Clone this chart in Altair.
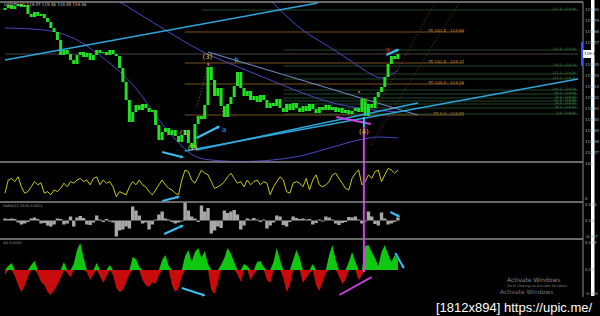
import altair as alt
import pandas as pd

# ---------------- data ----------------
close = [119.92, 119.95, 119.91, 119.94, 119.96, 119.93, 119.95, 119.86, 119.83, 119.88,
         119.84, 119.86, 119.82, 119.78, 119.72, 119.68, 119.60, 119.45, 119.50, 119.46,
         119.40, 119.36, 119.45, 119.48, 119.43, 119.47, 119.40, 119.45, 119.50, 119.47,
         119.48, 119.45, 119.50, 119.46, 119.44, 119.32, 119.18, 119.00, 118.78, 118.88,
         118.95, 118.90, 118.96, 118.92, 118.88, 118.90, 118.75, 118.60, 118.68, 118.72,
         118.65, 118.70, 118.64, 118.58, 118.65, 118.70, 118.57, 118.52, 118.76, 118.84,
         118.81, 118.95, 119.33, 119.20, 119.04, 119.12, 118.94, 118.83, 118.96, 119.03,
         119.14, 119.28, 119.12, 119.04, 119.09, 119.00, 119.04, 118.98, 119.05, 119.00,
         118.92, 118.97, 118.94, 119.01, 118.92, 118.88, 118.96, 118.90, 118.97, 118.92,
         118.88, 118.94, 118.89, 118.96, 118.91, 118.87, 118.93, 118.90, 118.95, 118.90,
         118.93, 118.88, 118.92, 118.87, 118.90, 118.86, 118.89, 118.92, 118.88, 119.01,
         118.84, 118.96, 118.92, 119.03, 119.08, 119.13, 119.23, 119.36, 119.44, 119.41,
         119.46]
first_open = 119.90

osc = [22, 55, 59, 51, 63, 38, 22, 26, 38, 51, 43, 48, 22, 26, 18, 30, 26, 34, 47, 38,
       51, 47, 55, 59, 51, 55, 43, 59, 63, 43, 55, 47, 51, 38, 13, 26, 22, 18, 38, 51,
       43, 55, 43, 38, 26, 18, 30, 43, 55, 43, 34, 30, 22, 18, 55, 80, 76, 55, 47, 63,
       80, 72, 68, 51, 34, 38, 43, 51, 63, 72, 59, 47, 51, 38, 55, 43, 51, 55, 43, 51,
       47, 18, 38, 51, 63, 55, 26, 22, 47, 51, 47, 38, 59, 30, 55, 68, 43, 38, 43, 51,
       68, 72, 59, 47, 34, 30, 59, 72, 80, 43, 51, 68, 59, 76, 80, 51, 68, 84, 80, 72,
       80]

osma = [0.004, 0.003, 0.004, 0.003, -0.004, -0.008, -0.006, -0.003, 0.004, 0.006,
        0.003, -0.006, -0.005, -0.010, -0.012, -0.008, 0.004, 0.003, -0.008, -0.006,
        0.008, -0.012, 0.006, 0.009, 0.005, -0.008, -0.009, -0.004, 0.010, 0.002,
        -0.003, 0.003, -0.002, -0.004, -0.032, -0.020, -0.018, -0.012, -0.016, 0.028,
        0.020, 0.010, -0.006, -0.004, -0.018, -0.008, 0.002, 0.012, 0.018, 0.004,
        0.002, -0.003, -0.006, -0.004, -0.002, 0.036, 0.020, 0.008, 0.004, -0.003,
        0.030, 0.018, 0.025, -0.026, -0.020, -0.012, -0.015, 0.020, 0.015, 0.018,
        0.021, 0.012, -0.018, -0.010, 0.004, 0.002, 0.005, 0.002, -0.003, 0.002,
        -0.016, -0.010, -0.004, 0.010, 0.008, -0.009, -0.012, -0.003, 0.008, 0.005,
        0.003, 0.004, 0.002, 0.003, -0.008, -0.005, 0.002, -0.002, 0.008, 0.006,
        0.002, -0.006, -0.009, -0.005, -0.003, 0.007, 0.006, 0.008, 0.002, -0.006,
        -0.002, 0.018, 0.008, -0.007, -0.010, 0.016, 0.004, -0.008, -0.006, -0.003,
        0.006]

ao = [-0.005, 0.004, 0.007, -0.006, -0.015, -0.022, -0.016, -0.006, 0.005, 0.009,
      -0.004, -0.012, -0.015, -0.022, -0.025, -0.020, -0.015, -0.008, 0.008, -0.003,
      -0.007, 0.006, 0.020, 0.027, 0.012, -0.002, -0.010, -0.004, 0.007, -0.006,
      -0.013, -0.006, 0.005, -0.005, -0.018, -0.022, -0.020, -0.012, -0.004, 0.013,
      0.011, 0.003, -0.010, -0.015, -0.017, -0.012, -0.014, -0.005, 0.010, 0.015,
      0.004, -0.015, -0.022, -0.018, -0.006, 0.014, 0.020, 0.008, 0.018, 0.022,
      0.012, 0.019, 0.006, -0.020, -0.024, -0.012, 0.005, 0.012, 0.022, 0.016,
      0.008, -0.004, -0.012, 0.006, 0.004, -0.010, -0.004, 0.008, 0.009, 0.003,
      -0.010, -0.013, 0.008, 0.022, 0.010, -0.008, -0.022, -0.015, 0.010, 0.020,
      0.012, -0.013, -0.008, -0.003, 0.006, -0.015, -0.021, -0.012, -0.003, 0.015,
      0.025, 0.010, -0.006, -0.014, -0.010, 0.008, 0.018, 0.008, -0.010, -0.005,
      0.024, 0.025, 0.018, 0.012, 0.004, 0.018, 0.025, 0.016, 0.008, 0.015,
      0.010]

# envelope curves (bar index, price)
band_upper_left = [(35.1, 119.98), (45.0, 119.78), (54.0, 119.60), (60.0, 119.49), (72.0, 119.32),
                   (81.0, 119.20), (90.1, 119.08), (99.1, 118.98), (108.1, 118.92), (120.1, 118.88)]
band_upper_right = [(81.6, 119.98), (90.1, 119.72), (99.1, 119.53), (106.6, 119.37), (111.7, 119.26),
                    (114.7, 119.22), (117.7, 119.25), (120.1, 119.30)]
band_lower = [(0, 119.72), (12.0, 119.70), (20.1, 119.63), (30.0, 119.42), (39.9, 119.12),
              (47.1, 118.80), (53.1, 118.57), (57.9, 118.44), (63.0, 118.40), (72.0, 118.385),
              (81.6, 118.40), (90.1, 118.44), (99.1, 118.52), (108.1, 118.60), (114.1, 118.63),
              (120.1, 118.62)]

# drawn lines (x, y, x2, y2) in bar index / panel units
cyan_lines = [(0.0, 119.40, 95.5, 119.97), (54.9, 118.49, 175.0, 119.21), (58.5, 118.50, 126.1, 118.97)]
steel_lines = [(62.0, 119.48, 126.0, 118.85)]
dotted_red = [(108.1, 118.60, 131.2, 119.97), (111.7, 118.55, 138.7, 119.97)]
dotted_wave = [(62.1, 119.35, 66.9, 118.83), (62.1, 119.35, 58.5, 118.92)]
magenta_main = [(109.6, 118.73, 109.6, 118.38), (101.2, 118.83, 111.7, 118.76)]
cyan_tick = [(109.6, 118.83, 109.6, 118.73)]
magenta_osc = [(109.6, 0, 109.6, 100)]
magenta_osma = [(109.6, -0.037, 109.6, 0.037)]
magenta_ao = [(109.6, 0.031, 109.6, -0.002), (102.1, -0.025, 112.0, -0.007)]

# arrows (x, y, x2, y2, head angle)
arrows_main = [(48.0, 118.48, 54.0, 118.43, 104), (58.5, 118.62, 65.1, 118.73, 63),
               (116.5, 119.45, 119.8, 119.50, 66)]
arrows_osc = [(48.0, 2.5, 52.8, 12.5, 76)]
arrows_osma = [(48.6, -0.027, 54.0, -0.011, 66), (117.7, 0.017, 120.1, 0.009, 117)]
arrows_ao = [(54.0, -0.018, 60.6, -0.025, 108), (119.2, 0.017, 121.6, 0.003, 150)]

# fibonacci expansion / retracement levels
fe_prices = [119.68, 119.37, 119.16, 118.85]
fe_labels = ["FE 261.8 - 119.68", "FE 161.8 - 119.37", "FE 100.0 - 119.16", "FE 0.0 - 118.85"]
fe_start, fe_end = 54.9, 140.2
fr_prices = [119.90, 119.50, 119.34, 119.26, 119.21, 119.10, 119.06, 119.02, 118.99, 118.96, 118.92, 118.86]
fr_labels = ["261.8 - 119.90", "161.8 - 119.50", "138.2 - 119.34", "127.2 - 119.26", "123.6 - 119.21",
             "100.0 - 119.10", "88.6 - 119.06", "78.6 - 119.02", "61.8 - 118.99", "50.0 - 118.96",
             "38.2 - 118.92", "0.0 - 118.86"]
fr_start = [60.0] + [85.0] * 11
fr_end = 175.0
bid_price = 119.46

wave_labels = [("(1)", 54.9, 118.67), ("(2)", 57.3, 118.52), ("(3)", 61.8, 119.43), ("(4)", 109.6, 118.68)]
abc_labels = [("a", 66.9, 118.70), ("b", 70.8, 119.40)]
red_labels = [("3", 116.8, 119.49, 7), ("1", 110.2, 119.00, 5), ("2", 117.4, 118.92, 5)]
pink_dots = [(62.1, 119.36), (108.1, 119.08)]

main_ticks = [119.90, 119.79, 119.68, 119.57, 119.35, 119.24, 119.13, 119.02, 118.91, 118.80, 118.69, 118.58, 118.47]
osc_tick_pos = [96, 8]
osc_tick_text = ["100", "0"]
osma_tick_pos = [0.031, 0.0, -0.033]
osma_tick_text = ["0.036", "0.00", "-0.037"]
ao_tick_pos = [0.027, 0.0, -0.024]
ao_tick_text = ["0.029", "0.00", "-0.026"]

# ---------------- scales ----------------
XS = alt.Scale(domain=[0, 175], range=[0, 583], nice=False, zero=False)


def ysc(dom, rng):
    return alt.Scale(domain=dom, range=rng, nice=False, zero=False)


YM = ysc([118.38, 119.98], [162, 2])
YO = ysc([0, 100], [202, 162])
YH = ysc([-0.037, 0.037], [239, 202])
YA = ysc([-0.027, 0.031], [297, 239])


def X(f):
    return alt.X(f, type="quantitative", scale=XS, axis=None)


def Y(f, s):
    return alt.Y(f, type="quantitative", scale=s, axis=None)


layers = []
one = pd.DataFrame({"k": [0]})


def segs(rows, s, color, width=1.0, dash=None, opacity=1.0):
    df = pd.DataFrame([r[:4] for r in rows], columns=["x", "y", "x2", "y2"])
    kw = dict(color=color, strokeWidth=width, opacity=opacity)
    if dash:
        kw["strokeDash"] = dash
    return alt.Chart(df).mark_rule(**kw).encode(
        x=X("x"), x2="x2:Q", y=Y("y", s), y2="y2:Q")


def heads(rows, s, color):
    df = pd.DataFrame([(r[2], r[3], r[4]) for r in rows], columns=["x", "y", "a"])
    return alt.Chart(df).mark_point(shape="triangle", filled=True, size=14, color=color, opacity=1).encode(
        x=X("x"), y=Y("y", s), angle=alt.Angle("a:Q", scale=None))


def curve(pts, s, color, width=1.0):
    df = pd.DataFrame(pts, columns=["x", "y"])
    df["o"] = range(len(df))
    return alt.Chart(df).mark_line(color=color, strokeWidth=width, interpolate="monotone").encode(
        x=X("x"), y=Y("y", s), order="o:Q")


# ---- main panel ----
fe_df = pd.DataFrame({"y": fe_prices, "t": fe_labels, "x": fe_start, "x2": fe_end})
layers.append(alt.Chart(fe_df).mark_rule(color="#9a6a24", strokeWidth=0.8).encode(
    x=X("x"), x2="x2:Q", y=Y("y", YM)))
layers.append(alt.Chart(fe_df).mark_text(color="#c08a30", fontSize=4, align="right", baseline="bottom",
                                         dy=0.5, font="DejaVu Sans").encode(x=X("x2"), y=Y("y", YM), text="t:N"))
fr_df = pd.DataFrame({"y": fr_prices, "t": fr_labels, "x": fr_start, "x2": fr_end})
layers.append(alt.Chart(fr_df).mark_rule(color="#2c5a34", strokeWidth=0.8).encode(
    x=X("x"), x2="x2:Q", y=Y("y", YM)))
layers.append(alt.Chart(fr_df).mark_text(color="#3c9a4c", fontSize=3.2, align="right", baseline="bottom",
                                         dy=0.6, dx=-2, font="DejaVu Sans").encode(x=X("x2"), y=Y("y", YM), text="t:N"))
layers.append(alt.Chart(pd.DataFrame({"y": [bid_price], "x": [0], "x2": [175]})).mark_rule(
    color="#555555", strokeWidth=0.8).encode(x=X("x"), x2="x2:Q", y=Y("y", YM)))

layers.append(curve(band_upper_left, YM, "#4848c8"))
layers.append(curve(band_upper_right, YM, "#4848c8"))
layers.append(curve(band_lower, YM, "#4848c8"))
layers.append(segs(steel_lines, YM, "#6f8fcf", 1.0))
layers.append(segs(dotted_red, YM, "#8a3030", 1.0, dash=[1, 2]))
layers.append(segs(dotted_wave, YM, "#a05070", 1.0, dash=[1, 2]))

cdf = pd.DataFrame({"i": list(range(len(close))), "c": close})
cdf["o"] = [first_open] + close[:-1]
layers.append(alt.Chart(cdf).mark_bar(size=3.0, color="#22e022").encode(
    x=X("i"), y=Y("o", YM), y2="c:Q"))

layers.append(segs(cyan_lines, YM, "#2ea8dc", 1.5))
layers.append(segs(arrows_main, YM, "#38c0f0", 2.0))
layers.append(heads(arrows_main, YM, "#38c0f0"))
layers.append(segs(magenta_main, YM, "#d040e8", 2.0))
layers.append(segs(cyan_tick, YM, "#38c0f0", 2.0))

wdf = pd.DataFrame(wave_labels, columns=["t", "x", "y"])
layers.append(alt.Chart(wdf).mark_text(color="#e8c040", fontSize=7, font="DejaVu Sans").encode(
    x=X("x"), y=Y("y", YM), text="t:N"))
adf = pd.DataFrame(abc_labels, columns=["t", "x", "y"])
layers.append(alt.Chart(adf).mark_text(color="#3aa8e8", fontSize=7, font="DejaVu Sans").encode(
    x=X("x"), y=Y("y", YM), text="t:N"))
rdf = pd.DataFrame(red_labels, columns=["t", "x", "y", "s"])
layers.append(alt.Chart(rdf).mark_text(color="#e02828", font="DejaVu Sans").encode(
    x=X("x"), y=Y("y", YM), text="t:N", size=alt.Size("s:Q", scale=None)))
pdf_ = pd.DataFrame(pink_dots, columns=["x", "y"])
layers.append(alt.Chart(pdf_).mark_point(filled=True, size=6, color="#e060a0").encode(x=X("x"), y=Y("y", YM)))

# ---- oscillator panel ----
odf = pd.DataFrame({"i": list(range(len(osc))), "v": osc})
layers.append(alt.Chart(odf).mark_line(color="#c8c820", strokeWidth=1).encode(x=X("i"), y=Y("v", YO)))
layers.append(segs(arrows_osc, YO, "#38c0f0", 2.0))
layers.append(heads(arrows_osc, YO, "#38c0f0"))
layers.append(segs(magenta_osc, YO, "#d040e8", 2.0))

# ---- OsMA panel ----
hdf = pd.DataFrame({"i": list(range(len(osma))), "v": osma, "z": 0.0})
layers.append(alt.Chart(hdf).mark_bar(size=3.4, color="#a8a8a8").encode(x=X("i"), y=Y("v", YH), y2="z:Q"))
layers.append(segs(arrows_osma, YH, "#38c0f0", 2.0))
layers.append(heads(arrows_osma, YH, "#38c0f0"))
layers.append(segs(magenta_osma, YH, "#d040e8", 2.0))

# ---- AO panel ----
adf2 = pd.DataFrame({"i": list(range(len(ao))), "v": ao, "z": 0.0})
adf2["pos"] = adf2["v"].clip(lower=0)
adf2["neg"] = adf2["v"].clip(upper=0)
layers.append(alt.Chart(adf2).mark_area(color="#10c810", interpolate="linear").encode(
    x=X("i"), y=Y("pos", YA), y2="z:Q"))
layers.append(alt.Chart(adf2).mark_area(color="#c80c0c", interpolate="linear").encode(
    x=X("i"), y=Y("neg", YA), y2="z:Q"))
layers.append(segs(arrows_ao, YA, "#38c0f0", 2.0))
layers.append(heads(arrows_ao, YA, "#38c0f0"))
layers.append(segs(magenta_ao, YA, "#d040e8", 2.0))

# ---- chrome: panel separators, axis, labels ----
for yy in [2, 162, 202, 239]:
    layers.append(alt.Chart(one).mark_rule(color="#8c8c8c", strokeWidth=1.5).encode(
        x=alt.value(0), x2=alt.value(583), y=alt.value(yy)))
layers.append(alt.Chart(one).mark_rule(color="#8c8c8c", strokeWidth=1).encode(
    x=alt.value(583), y=alt.value(2), y2=alt.value(297)))
layers.append(alt.Chart(one).mark_rect(color="white").encode(
    x=alt.value(591), x2=alt.value(594.5), y=alt.value(0), y2=alt.value(296)))


def tick_text(pos, texts, s):
    df = pd.DataFrame({"y": pos, "t": texts})
    return alt.Chart(df).mark_text(color="#a8a8a8", fontSize=4, align="left", baseline="middle",
                                   font="DejaVu Sans").encode(x=alt.value(585), y=Y("y", s), text="t:N")


layers.append(tick_text(main_ticks, [f"{v:.2f}" for v in main_ticks], YM))
layers.append(tick_text(osc_tick_pos, osc_tick_text, YO))
layers.append(tick_text(osma_tick_pos, osma_tick_text, YH))
layers.append(tick_text(ao_tick_pos, ao_tick_text, YA))

bid_df = pd.DataFrame({"y": [bid_price + 0.04], "y2": [bid_price - 0.04], "m": [bid_price - 0.12],
                       "m2": [bid_price + 0.12], "t": [f"{bid_price:.2f}"], "c": [bid_price]})
layers.append(alt.Chart(bid_df).mark_rule(color="#3050ff", strokeWidth=2).encode(
    x=alt.value(582), y=Y("m2", YM), y2="m:Q"))
layers.append(alt.Chart(bid_df).mark_rect(color="white").encode(
    x=alt.value(583), x2=alt.value(592), y=Y("y", YM), y2="y2:Q"))
layers.append(alt.Chart(bid_df).mark_text(color="black", fontSize=4, align="left", baseline="middle",
                                          font="DejaVu Sans").encode(x=alt.value(584), y=Y("c", YM), text="t:N"))

texts = [
    ("USDJPY,H1  119.47 119.48 119.45 119.46", 4, 5, 4, "#c0c0c0", "DejaVu Sans"),
    ("OsMA(12,26,9) 0.0021", 3, 206, 3.5, "#a0a0a0", "DejaVu Sans"),
    ("AO 0.0103", 3, 243, 3.5, "#a0a0a0", "DejaVu Sans"),
    ("Activate Windows", 507, 279.5, 6, "#8a8a8a", "DejaVu Sans"),
    ("Go to Settings to activate Windows.", 507, 285.5, 3.4, "#808080", "DejaVu Sans"),
    ("Activate Windows", 500, 291.5, 6, "#7a7a7a", "DejaVu Sans"),
]
for t, xx, yy, fs, col, fnt in texts:
    layers.append(alt.Chart(one).mark_text(text=t, fontSize=fs, color=col, align="left", baseline="middle",
                                           font=fnt).encode(x=alt.value(xx), y=alt.value(yy)))
layers.append(alt.Chart(one).mark_text(text="[1812x894] https://upic.me/", fontSize=13, color="white",
                                       align="left", baseline="alphabetic",
                                       font="Liberation Sans").encode(x=alt.value(436), y=alt.value(312)))

chart = alt.layer(*layers).resolve_scale(y="independent").properties(
    width=600, height=316, background="black", padding=0,
    autosize=alt.AutoSizeParams(type="none"),
).configure_view(stroke=None)

chart.save("out.html", embed_options={"renderer": "svg", "actions": False})
